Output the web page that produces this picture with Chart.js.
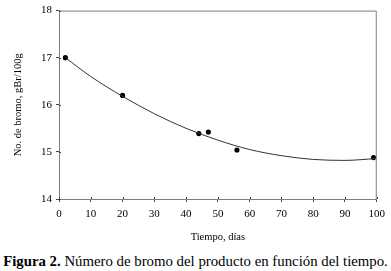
<!DOCTYPE html>
<html>
<head>
<meta charset="utf-8">
<script src="https://cdn.jsdelivr.net/npm/chart.js@4.4.1/dist/chart.umd.min.js"></script>
<style>
html,body{margin:0;padding:0;background:#fff;}
#wrap{position:absolute;left:0;top:0;width:391px;height:248px;}
#cap{position:absolute;left:0;top:252px;width:391px;text-align:center;font-family:"Liberation Serif","Times New Roman",serif;font-size:14.8px;color:#000;white-space:nowrap;line-height:18px;}
</style>
</head>
<body>
<div id="wrap"><canvas id="c"></canvas></div>
<div id="cap"><b>Figura 2.</b> Número de bromo del producto en función del tiempo.</div>
<script>
// Measured points (days, bromine number)
const pointDays = [2, 20, 44, 47, 56, 99];
const pointBromo = [17.0, 16.2, 15.39, 15.42, 15.04, 14.88];
// Fitted curve
const curveDays = [2, 10, 20, 30, 40, 50, 60, 70, 80, 90, 100];
const curveBromo = [17.0, 16.6, 16.18, 15.81, 15.5, 15.25, 15.05, 14.92, 14.84, 14.82, 14.86];
const xTicks = [0, 10, 20, 30, 40, 50, 60, 70, 80, 90, 100];
const yTicks = [14, 15, 16, 17, 18];

const serif = '"Liberation Serif","Times New Roman",serif';
const gray = '#7f7f7f';

const frame = {
  id: 'frame',
  afterDraw(chart) {
    const {ctx, chartArea: a} = chart;
    ctx.save();
    ctx.strokeStyle = gray;
    ctx.lineWidth = 1;
    ctx.beginPath();
    ctx.moveTo(a.left + 0.5, a.top + 0.5);
    ctx.lineTo(a.right - 0.5, a.top + 0.5);
    ctx.lineTo(a.right - 0.5, a.bottom);
    ctx.stroke();
    // inward tick halves
    const xs = chart.scales.x, ys = chart.scales.y;
    ctx.strokeStyle = '#444';
    ctx.beginPath();
    xTicks.forEach(v => { const px = Math.round(xs.getPixelForValue(v)) + 0.5; ctx.moveTo(px, a.bottom); ctx.lineTo(px, a.bottom - 2); });
    yTicks.forEach(v => { const py = Math.round(ys.getPixelForValue(v)) + 0.5; ctx.moveTo(a.left, py); ctx.lineTo(a.left + 2, py); });
    ctx.stroke();
    ctx.restore();
  }
};

new Chart(document.getElementById('c'), {
  type: 'scatter',
  data: {
    datasets: [
      {
        type: 'line',
        data: curveDays.map((x, i) => ({x, y: curveBromo[i]})),
        borderColor: '#333',
        borderWidth: 1,
        pointRadius: 0,
        cubicInterpolationMode: 'monotone',
        fill: false
      },
      {
        data: pointDays.map((x, i) => ({x, y: pointBromo[i]})),
        backgroundColor: '#000',
        borderColor: '#000',
        pointRadius: 2.6,
        borderWidth: 0
      }
    ]
  },
  options: {
    responsive: true,
    maintainAspectRatio: false,
    animation: false,
    layout: {padding: {top: 3, right: 9, left: 0, bottom: 0}},
    plugins: {legend: {display: false}, tooltip: {enabled: false}},
    scales: {
      x: {
        type: 'linear', min: 0, max: 100,
        afterBuildTicks: s => { s.ticks = xTicks.map(v => ({value: v})); },
        afterFit: s => { s.height = 49; },
        border: {color: gray, width: 1},
        grid: {drawOnChartArea: false, tickLength: 3, color: '#444'},
        ticks: {color: '#000', font: {family: serif, size: 11}, padding: 6, maxRotation: 0},
        title: {display: true, text: 'Tiempo, días', color: '#000', font: {family: serif, size: 10.5}, padding: {top: 4}}
      },
      y: {
        min: 14, max: 18,
        afterBuildTicks: s => { s.ticks = yTicks.map(v => ({value: v})); },
        afterFit: s => { s.width = 59; },
        border: {color: gray, width: 1},
        grid: {drawOnChartArea: false, tickLength: 3, color: '#444'},
        ticks: {color: '#000', font: {family: serif, size: 11}, padding: 4},
        title: {display: true, text: 'No. de bromo, gBr/100g', color: '#000', font: {family: serif, size: 10.5}, padding: {top: 12, bottom: 2}}
      }
    }
  },
  plugins: [frame]
});
</script>
</body>
</html>
